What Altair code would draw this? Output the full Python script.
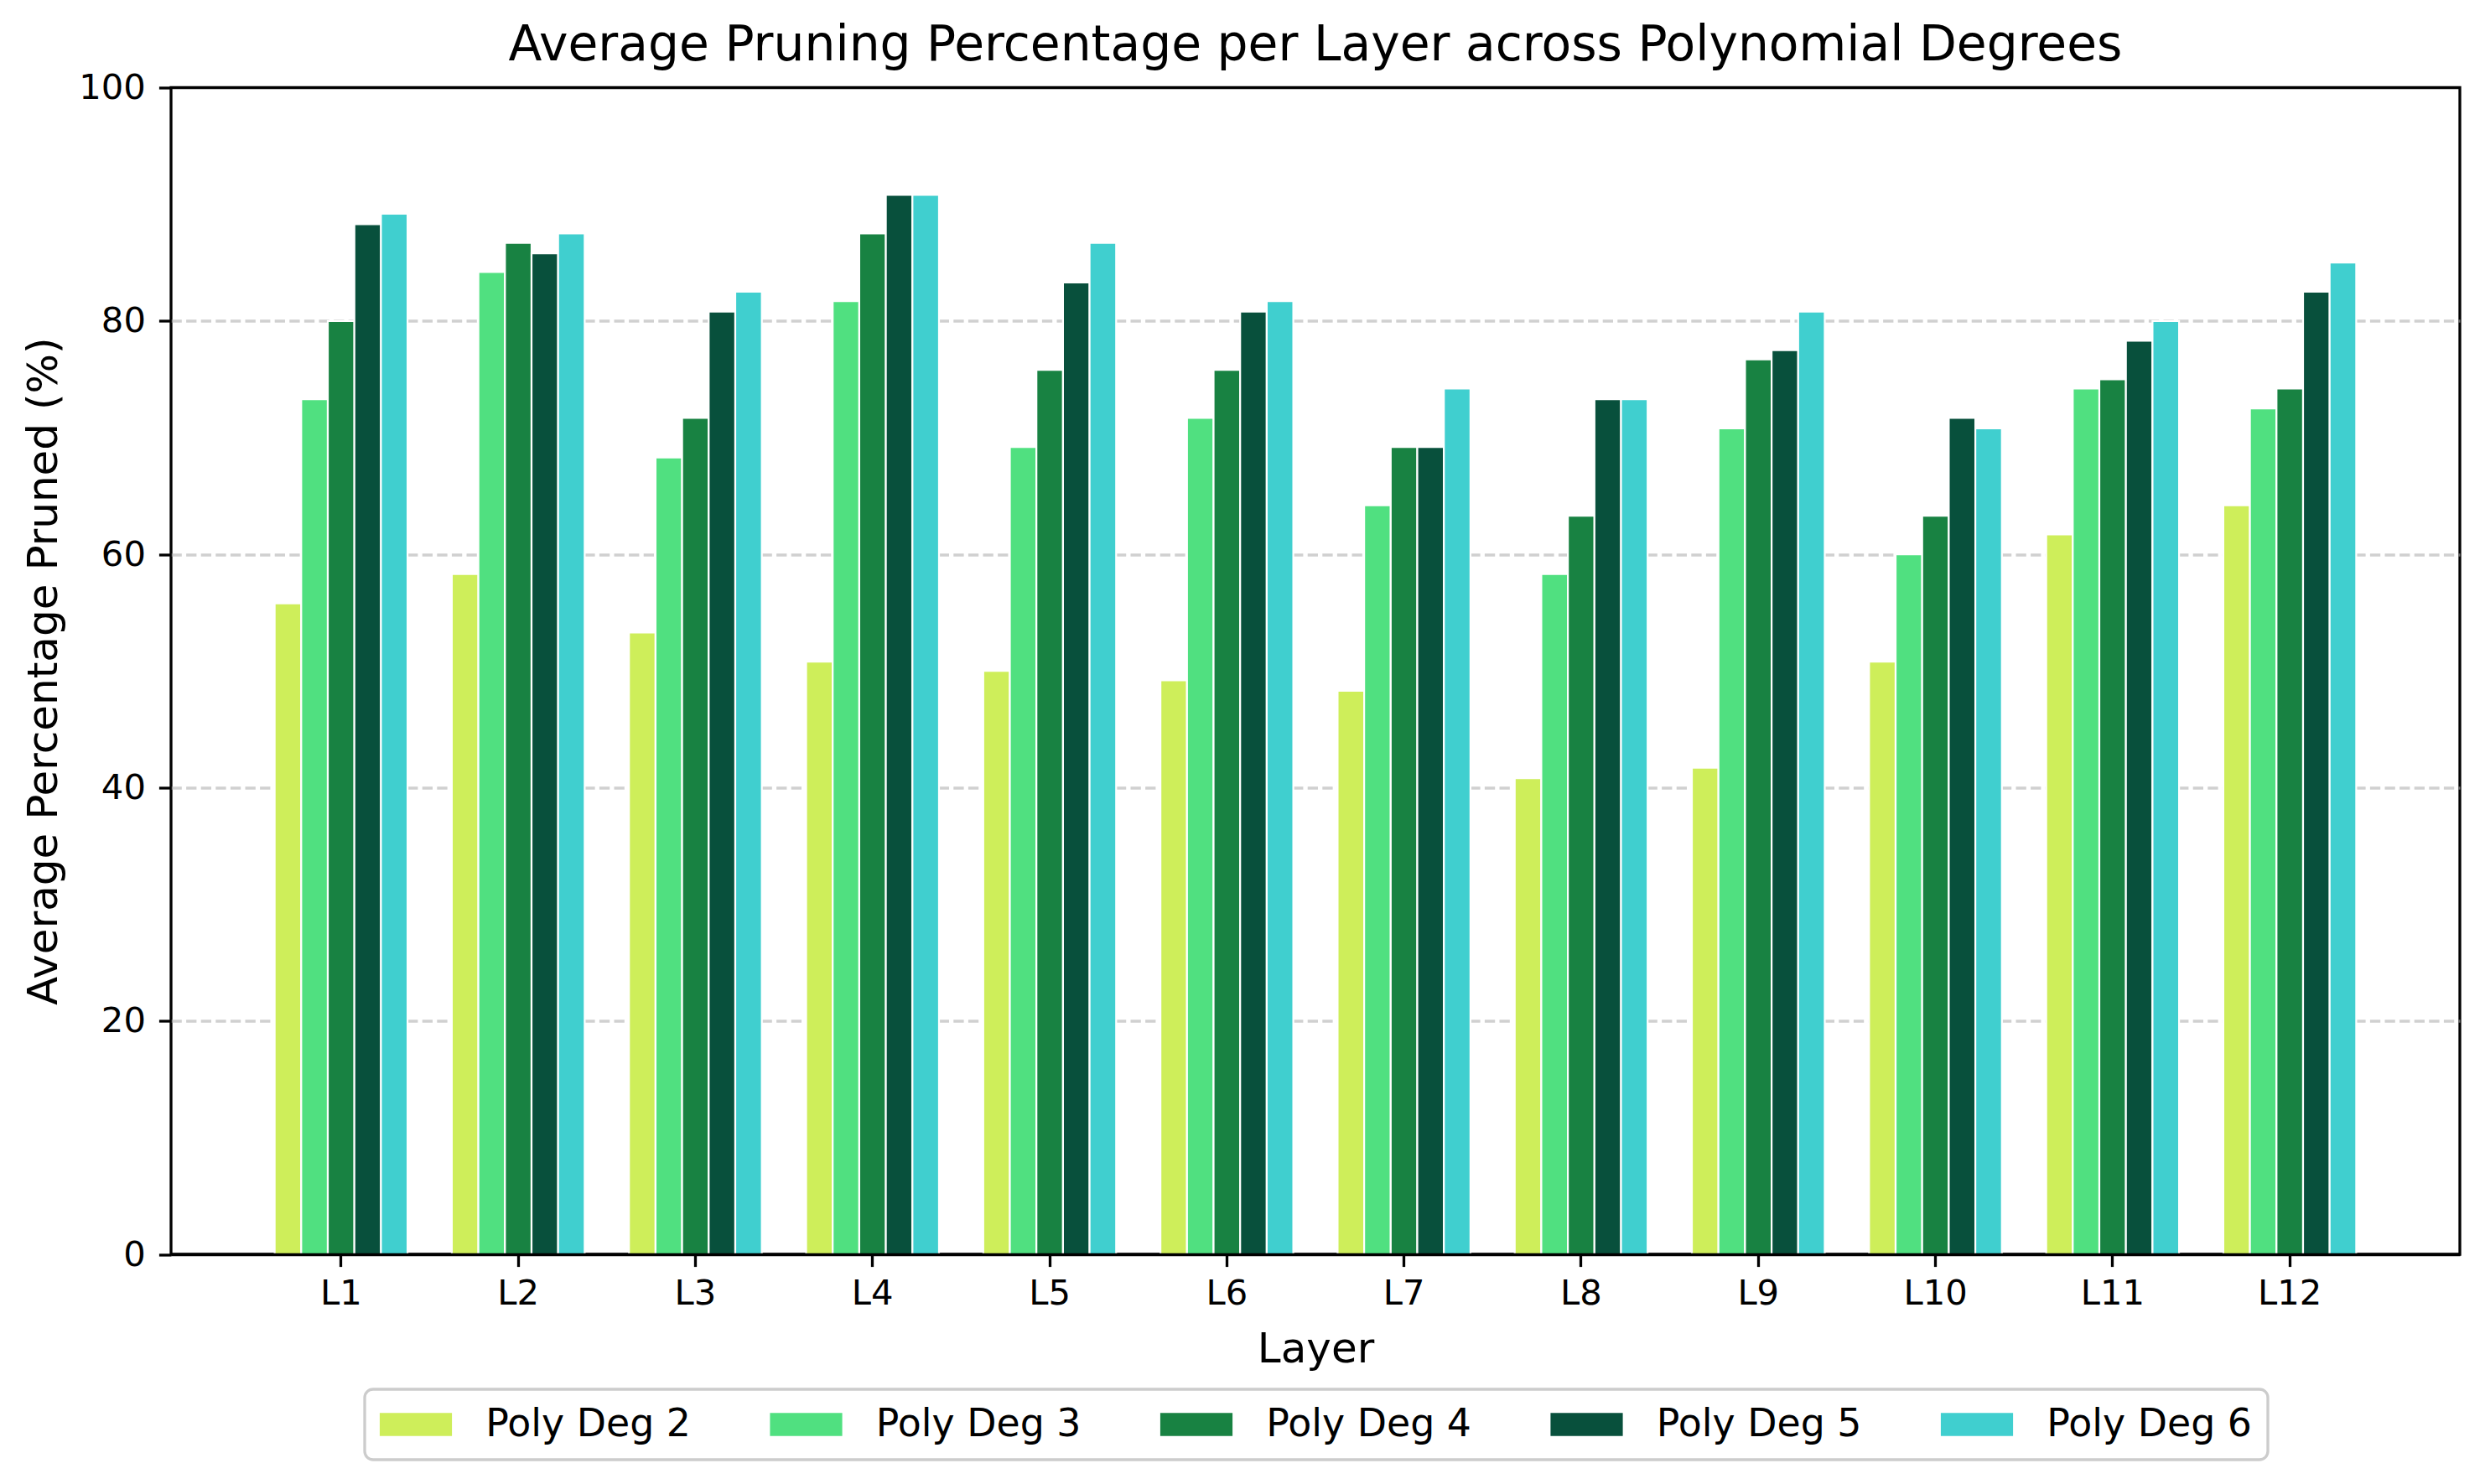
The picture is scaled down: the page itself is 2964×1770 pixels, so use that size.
import altair as alt
import pandas as pd

layers = ["L1", "L2", "L3", "L4", "L5", "L6", "L7", "L8", "L9", "L10", "L11", "L12"]
degrees = ["Poly Deg 2", "Poly Deg 3", "Poly Deg 4", "Poly Deg 5", "Poly Deg 6"]
colors = ["#ceee5a", "#50e080", "#188242", "#08503c", "#40cfcf"]

deg2 = [55.8, 58.3, 53.3, 50.8, 50.0, 49.2, 48.3, 40.8, 41.7, 50.8, 61.7, 64.2]
deg3 = [73.3, 84.2, 68.3, 81.7, 69.2, 71.7, 64.2, 58.3, 70.8, 60.0, 74.2, 72.5]
deg4 = [80.0, 86.7, 71.7, 87.5, 75.8, 75.8, 69.2, 63.3, 76.7, 63.3, 75.0, 74.2]
deg5 = [88.3, 85.8, 80.8, 90.8, 83.3, 80.8, 69.2, 73.3, 77.5, 71.7, 78.3, 82.5]
deg6 = [89.2, 87.5, 82.5, 90.8, 86.7, 81.7, 74.2, 73.3, 80.8, 70.8, 80.0, 85.0]

series = [deg2, deg3, deg4, deg5, deg6]
rows = []
for d, vals in zip(degrees, series):
    for l, v in zip(layers, vals):
        rows.append({"Layer": l, "Degree": d, "Value": v})
df = pd.DataFrame(rows)

FONT = "DejaVu Sans"
W, H = 2730, 1391.5

bars = alt.Chart(df).mark_bar(stroke="white", strokeWidth=2.2).encode(
    x=alt.X(
        "Layer:N",
        sort=layers,
        scale=alt.Scale(paddingInner=0.25, paddingOuter=0.585),
        axis=alt.Axis(
            title="Layer",
            labelAngle=0,
            labelFont=FONT,
            labelFontSize=41.7,
            labelColor="black",
            labelPadding=12,
            tickColor="black",
            tickWidth=3.3,
            tickSize=14.6,
            domain=True,
            domainColor="black",
            domainWidth=3.3,
            zindex=1,
            grid=False,
            titleFont=FONT,
            titleFontSize=50,
            titleFontWeight="normal",
            titleColor="black",
            titleBaseline="alphabetic",
            titleY=128,
        ),
    ),
    xOffset=alt.XOffset("Degree:N", sort=degrees, scale=alt.Scale(paddingInner=0, paddingOuter=0)),
    y=alt.Y(
        "Value:Q",
        scale=alt.Scale(domain=[0, 100], nice=False, zero=True),
        axis=alt.Axis(
            title="Average Percentage Pruned (%)",
            values=[0, 20, 40, 60, 80, 100],
            labelFont=FONT,
            labelFontSize=41.7,
            labelColor="black",
            labelPadding=16,
            tickColor="black",
            tickWidth=3.3,
            tickSize=14.6,
            domain=False,
            grid=True,
            gridColor="#b0b0b0",
            gridOpacity={"condition": {"test": "datum.value >= 100 || datum.value <= 0", "value": 0}, "value": 0.6},
            gridWidth=3.3,
            gridDash=[12.3, 5.3],
            titleFont=FONT,
            titleFontSize=50,
            titleFontWeight="normal",
            titleColor="black",
            titleAngle=-90,
            titleBaseline="alphabetic",
            titleAlign="center",
            titleX=-137,
            titleY=H / 2,
        ),
    ),
    color=alt.Color(
        "Degree:N",
        sort=degrees,
        scale=alt.Scale(domain=degrees, range=colors),
        legend=alt.Legend(
            title=None,
            orient="none",
            legendX=231,
            legendY=1552.5,
            direction="horizontal",
            columns=5,
            columnPadding=88.5,
            labelOffset=79.5,
            padding=19,
            strokeColor="#cccccc",
            cornerRadius=10,
            fillColor="white",
            labelFont=FONT,
            labelFontSize=45.8,
            labelColor="black",
            labelLimit=500,
            symbolType="M-1.7,-1L4.3,-1L4.3,1L-1.7,1Z",
            symbolSize=864,
            symbolStrokeColor="white",
            symbolStrokeWidth=2,
            symbolOpacity=1,
        ),
    ),
)

chart = bars.properties(
    width=W,
    height=H,
    background="white",
    title=alt.TitleParams(
        text="Average Pruning Percentage per Layer across Polynomial Degrees",
        font=FONT,
        fontSize=58.3,
        fontWeight="normal",
        color="black",
        anchor="middle",
        frame="group",
        baseline="alphabetic",
        offset=-46,
    ),
    autosize=alt.AutoSizeParams(type="none"),
    padding={"left": 196, "top": 96.5, "right": 22, "bottom": 262},
).configure_view(
    stroke="black",
    strokeWidth=3.3,
).configure_legend(
    strokeWidth=3.3,
)

chart.save("out.html", embed_options={"renderer": "svg", "actions": False})
